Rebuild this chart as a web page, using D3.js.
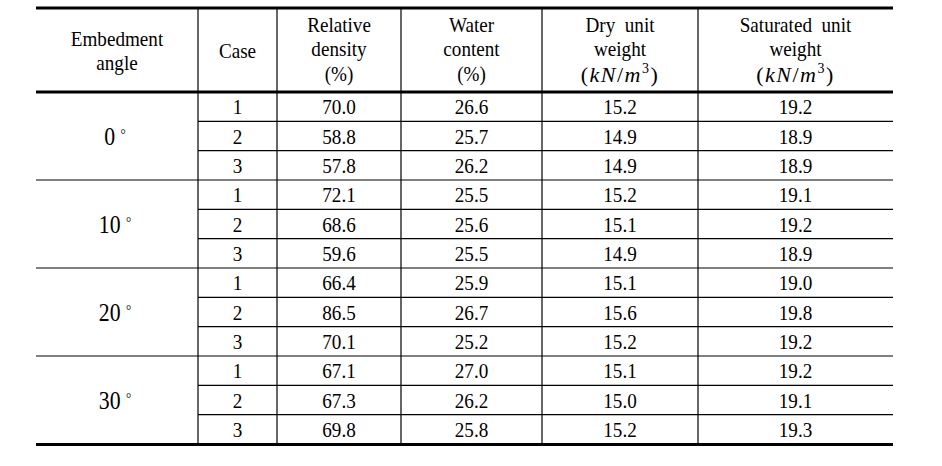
<!DOCTYPE html>
<html>
<head>
<meta charset="utf-8">
<script src="https://cdn.jsdelivr.net/npm/d3@7"></script>
<style>
  body { margin: 0; background: #fff; }
  text { font-family: 'Liberation Serif', 'Times New Roman', serif; fill: #000; }
</style>
</head>
<body>
<div id="chart"></div>
<script>
// table contents
const angles = ['0', '10', '20', '30'];
const cases = ['1', '2', '3'];
const relativeDensity = [70.0, 58.8, 57.8, 72.1, 68.6, 59.6, 66.4, 86.5, 70.1, 67.1, 67.3, 69.8];
const waterContent = [26.6, 25.7, 26.2, 25.5, 25.6, 25.5, 25.9, 26.7, 25.2, 27.0, 26.2, 25.8];
const dryUnitWeight = [15.2, 14.9, 14.9, 15.2, 15.1, 14.9, 15.1, 15.6, 15.2, 15.1, 15.0, 15.2];
const saturatedUnitWeight = [19.2, 18.9, 18.9, 19.1, 19.2, 18.9, 19.0, 19.8, 19.2, 19.2, 19.1, 19.3];
const headers = [
  ['Embedment', 'angle'],
  ['Case'],
  ['Relative', 'density', '(%)'],
  ['Water', 'content', '(%)'],
  ['Dry  unit', 'weight', 'UNIT'],
  ['Saturated  unit', 'weight', 'UNIT'],
];

const width = 942;
const height = 466;
const tableLeft = 36;
const tableRight = 893;
const tableTop = 8;
const headBottom = 92;
const tableBottom = 444;
const colEdges = [tableLeft, 198, 277, 401, 542, 698, tableRight];
const sx = 0.87; // the source font is narrow
const baselines = { 1: [58], 2: [46, 70], 3: [32, 56, 81] };

const svg = d3.select('#chart').append('svg').attr('width', width).attr('height', height);

const rowKeys = d3.range(angles.length * cases.length);
const yRow = d3.scaleBand().domain(rowKeys).range([headBottom, tableBottom]);
const yGroup = d3.scaleBand().domain(angles).range([headBottom, tableBottom]);
const colKeys = d3.range(headers.length);
const colLeft = d3.scaleOrdinal().domain(colKeys).range(colEdges.slice(0, -1));
const colRight = d3.scaleOrdinal().domain(colKeys).range(colEdges.slice(1));
const colMid = (i) => (colLeft(i) + colRight(i)) / 2;

function cellText(x, y, str, size) {
  return svg
    .append('text')
    .attr('transform', `translate(${x},${y}) scale(${sx},1)`)
    .attr('text-anchor', 'middle')
    .style('font-size', `${size}px`)
    .style('white-space', 'pre')
    .text(str);
}

// header
headers.forEach((lines, i) => {
  const base = baselines[lines.length];
  lines.forEach((ln, j) => {
    if (ln === 'UNIT') {
      const t = svg
        .append('text')
        .attr('x', colMid(i))
        .attr('y', base[j] + 1)
        .attr('text-anchor', 'middle')
        .style('font-size', '22px')
        .style('letter-spacing', '1.5px');
      t.append('tspan').text('(');
      t.append('tspan').style('font-style', 'italic').text('kN');
      t.append('tspan').text('/');
      t.append('tspan').style('font-style', 'italic').text('m');
      t.append('tspan').attr('dy', -9).style('font-size', '14px').text('3');
      t.append('tspan').attr('dy', 9).text(')');
    } else {
      cellText(colMid(i), base[j], ln, 22);
    }
  });
});

// angle labels
angles.forEach((a) => {
  const cy = yGroup(a) + yGroup.bandwidth() / 2;
  const t = svg
    .append('text')
    .attr('transform', `translate(${colMid(0) - 2},${cy + 9}) scale(${sx},1)`)
    .attr('text-anchor', 'middle')
    .style('font-size', '25px')
    .style('white-space', 'pre');
  t.append('tspan').text(a + ' ');
  t.append('tspan').attr('dy', -6).style('font-size', '15px').text('°');
});

// body cells
const columns = [relativeDensity, waterContent, dryUnitWeight, saturatedUnitWeight];
rowKeys.forEach((r) => {
  const cy = yRow(r) + yRow.bandwidth() / 2 + 7.5;
  cellText(colMid(1), cy, cases[r % cases.length], 22);
  columns.forEach((vals, c) => {
    cellText(colMid(c + 2), cy, d3.format('.1f')(vals[r]), 22);
  });
});

// rules
const rules = svg.append('g').attr('stroke', '#000');
colEdges.slice(1, -1).forEach((x) => {
  rules.append('line').attr('x1', x).attr('x2', x).attr('y1', tableTop).attr('y2', tableBottom).attr('stroke-width', 1.2);
});
rowKeys.slice(1).forEach((r) => {
  const y = yRow(r);
  const groupStart = r % cases.length === 0;
  rules
    .append('line')
    .attr('x1', groupStart ? tableLeft : colEdges[1])
    .attr('x2', tableRight)
    .attr('y1', y)
    .attr('y2', y)
    .attr('stroke-width', 1.2);
});
[tableTop, headBottom, tableBottom + 0.5].forEach((y) => {
  rules.append('line').attr('x1', tableLeft).attr('x2', tableRight).attr('y1', y).attr('y2', y).attr('stroke-width', 3.2);
});
</script>
</body>
</html>
